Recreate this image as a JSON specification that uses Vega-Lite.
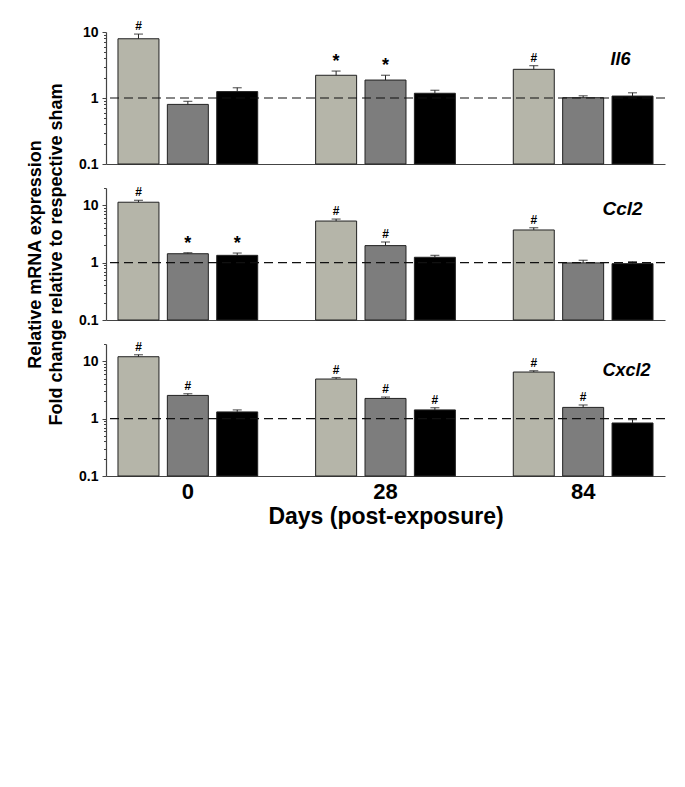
{
  "$schema": "https://vega.github.io/schema/vega-lite/v6.json",
  "background": "white",
  "padding": {"left": 26, "top": 20, "right": 5, "bottom": 5},
  "bounds": "flush",
  "spacing": 24,
  "config": {"view": {"stroke": null}, "font": "Liberation Sans", "axis": {"labelFont": "Liberation Sans", "titleFont": "Liberation Sans"}},
  "data": {"values": [
    {"gene": "Il6", "day": "0", "grp": "T1", "value": 7.9, "upper": 9.3, "sig": "#"},
    {"gene": "Il6", "day": "0", "grp": "T2", "value": 0.80, "upper": 0.89, "sig": ""},
    {"gene": "Il6", "day": "0", "grp": "T3", "value": 1.25, "upper": 1.43, "sig": ""},
    {"gene": "Il6", "day": "28", "grp": "T1", "value": 2.21, "upper": 2.56, "sig": "*"},
    {"gene": "Il6", "day": "28", "grp": "T2", "value": 1.87, "upper": 2.21, "sig": "*"},
    {"gene": "Il6", "day": "28", "grp": "T3", "value": 1.18, "upper": 1.31, "sig": ""},
    {"gene": "Il6", "day": "84", "grp": "T1", "value": 2.72, "upper": 3.09, "sig": "#"},
    {"gene": "Il6", "day": "84", "grp": "T2", "value": 1.01, "upper": 1.08, "sig": ""},
    {"gene": "Il6", "day": "84", "grp": "T3", "value": 1.07, "upper": 1.20, "sig": ""},
    {"gene": "Ccl2", "day": "0", "grp": "T1", "value": 11.3, "upper": 12.2, "sig": "#"},
    {"gene": "Ccl2", "day": "0", "grp": "T2", "value": 1.43, "upper": 1.49, "sig": "*"},
    {"gene": "Ccl2", "day": "0", "grp": "T3", "value": 1.34, "upper": 1.47, "sig": "*"},
    {"gene": "Ccl2", "day": "28", "grp": "T1", "value": 5.31, "upper": 5.75, "sig": "#"},
    {"gene": "Ccl2", "day": "28", "grp": "T2", "value": 1.98, "upper": 2.29, "sig": "#"},
    {"gene": "Ccl2", "day": "28", "grp": "T3", "value": 1.24, "upper": 1.34, "sig": ""},
    {"gene": "Ccl2", "day": "84", "grp": "T1", "value": 3.71, "upper": 4.06, "sig": "#"},
    {"gene": "Ccl2", "day": "84", "grp": "T2", "value": 0.99, "upper": 1.10, "sig": ""},
    {"gene": "Ccl2", "day": "84", "grp": "T3", "value": 0.96, "upper": 1.04, "sig": ""},
    {"gene": "Cxcl2", "day": "0", "grp": "T1", "value": 12.0, "upper": 13.0, "sig": "#"},
    {"gene": "Cxcl2", "day": "0", "grp": "T2", "value": 2.54, "upper": 2.72, "sig": "#"},
    {"gene": "Cxcl2", "day": "0", "grp": "T3", "value": 1.31, "upper": 1.42, "sig": ""},
    {"gene": "Cxcl2", "day": "28", "grp": "T1", "value": 4.9, "upper": 5.2, "sig": "#"},
    {"gene": "Cxcl2", "day": "28", "grp": "T2", "value": 2.25, "upper": 2.38, "sig": "#"},
    {"gene": "Cxcl2", "day": "28", "grp": "T3", "value": 1.42, "upper": 1.55, "sig": "#"},
    {"gene": "Cxcl2", "day": "84", "grp": "T1", "value": 6.49, "upper": 6.84, "sig": "#"},
    {"gene": "Cxcl2", "day": "84", "grp": "T2", "value": 1.57, "upper": 1.73, "sig": "#"},
    {"gene": "Cxcl2", "day": "84", "grp": "T3", "value": 0.84, "upper": 0.96, "sig": ""}
  ]},
  "vconcat": [
    {
      "width": 559, "height": 132,
      "transform": [{"filter": "datum.gene == 'Il6'"}],
      "layer": [
        {"mark": {"type": "bar", "stroke": "#222", "strokeWidth": 1},
         "encoding": {
           "x": {"field": "day", "type": "nominal", "sort": ["0", "28", "84"], "scale": {"paddingInner": 0.293, "paddingOuter": 0.0606}, "axis": {"labels": false, "ticks": false, "title": null, "domainColor": "#444", "domainWidth": 1.2}},
           "xOffset": {"field": "grp", "type": "nominal", "sort": ["T1", "T2", "T3"], "scale": {"paddingInner": 0.17, "paddingOuter": 0}},
           "y": {"field": "value", "type": "quantitative", "scale": {"type": "log", "domain": [0.1, 10], "nice": false},
                 "axis": {"values": [0.1, 0.2, 0.3, 0.4, 0.5, 0.6, 0.7, 0.8, 0.9, 1, 2, 3, 4, 5, 6, 7, 8, 9, 10],
                          "labelExpr": "datum.value == 0.1 ? '0.1' : datum.value == 1 ? '1' : datum.value == 10 ? '10' : ''",
                          "tickSize": {"condition": {"test": "datum.value == 0.1 || datum.value == 1 || datum.value == 10", "value": 4}, "value": 2.5},
                          "labelFontSize": 14, "labelFontWeight": "bold", "labelColor": "#000", "labelPadding": 4, "labelOverlap": false,
                          "domainColor": "#444", "domainWidth": 1.2, "tickColor": "#444", "grid": false, "title": null}},
           "y2": {"datum": 0.1},
           "fill": {"field": "grp", "type": "nominal", "scale": {"domain": ["T1", "T2", "T3"], "range": ["#b5b5a9", "#7d7d7d", "#000000"]}, "legend": null}
         }},
        {"mark": {"type": "rule", "color": "#222", "strokeWidth": 1},
         "encoding": {
           "x": {"field": "day", "type": "nominal", "sort": ["0", "28", "84"]},
           "xOffset": {"field": "grp", "type": "nominal", "sort": ["T1", "T2", "T3"]},
           "y": {"field": "value", "type": "quantitative"}, "y2": {"field": "upper"}}},
        {"mark": {"type": "tick", "color": "#222", "size": 9, "thickness": 1.2, "orient": "horizontal"},
         "encoding": {
           "x": {"field": "day", "type": "nominal", "sort": ["0", "28", "84"]},
           "xOffset": {"field": "grp", "type": "nominal", "sort": ["T1", "T2", "T3"]},
           "y": {"field": "upper", "type": "quantitative"}}},
        {"transform": [{"filter": "datum.day == '0' && datum.grp == 'T1'"}],
         "mark": {"type": "rule", "strokeDash": [9, 5], "color": "#111", "strokeWidth": 1.2},
         "encoding": {"y": {"datum": 1}}},
        {"mark": {"type": "text", "fontWeight": "bold", "baseline": "alphabetic", "dy": -4, "color": "#000"},
         "encoding": {
           "x": {"field": "day", "type": "nominal", "sort": ["0", "28", "84"]},
           "xOffset": {"field": "grp", "type": "nominal", "sort": ["T1", "T2", "T3"]},
           "y": {"field": "upper", "type": "quantitative"}, "text": {"field": "sig"},
           "size": {"condition": {"test": "datum.sig == '*'", "value": 18}, "value": 12}}},
        {"transform": [{"filter": "datum.day == '84' && datum.grp == 'T3'"}],
         "mark": {"type": "text", "fontWeight": "bold", "fontStyle": "italic", "fontSize": 18, "dx": -12, "baseline": "alphabetic", "color": "#000"},
         "encoding": {
           "x": {"field": "day", "type": "nominal", "sort": ["0", "28", "84"]},
           "xOffset": {"field": "grp", "type": "nominal", "sort": ["T1", "T2", "T3"]},
           "y": {"datum": 3.2}, "text": {"field": "gene"}}}
      ]
    },
    {
      "width": 559, "height": 132,
      "transform": [{"filter": "datum.gene == 'Ccl2'"}],
      "layer": [
        {"mark": {"type": "bar", "stroke": "#222", "strokeWidth": 1},
         "encoding": {
           "x": {"field": "day", "type": "nominal", "sort": ["0", "28", "84"], "scale": {"paddingInner": 0.293, "paddingOuter": 0.0606}, "axis": {"labels": false, "ticks": false, "title": null, "domainColor": "#444", "domainWidth": 1.2}},
           "xOffset": {"field": "grp", "type": "nominal", "sort": ["T1", "T2", "T3"], "scale": {"paddingInner": 0.17, "paddingOuter": 0}},
           "y": {"field": "value", "type": "quantitative", "scale": {"type": "log", "domain": [0.1, 20], "nice": false},
                 "axis": {"values": [0.1, 0.2, 0.3, 0.4, 0.5, 0.6, 0.7, 0.8, 0.9, 1, 2, 3, 4, 5, 6, 7, 8, 9, 10, 20],
                          "labelExpr": "datum.value == 0.1 ? '0.1' : datum.value == 1 ? '1' : datum.value == 10 ? '10' : ''",
                          "tickSize": {"condition": {"test": "datum.value == 0.1 || datum.value == 1 || datum.value == 10", "value": 4}, "value": 2.5},
                          "labelFontSize": 14, "labelFontWeight": "bold", "labelColor": "#000", "labelPadding": 4, "labelOverlap": false,
                          "domainColor": "#444", "domainWidth": 1.2, "tickColor": "#444", "grid": false,
                          "title": ["Relative mRNA expression", "Fold change relative to respective sham"],
                          "titleFontSize": 18, "titleFontWeight": "bold", "titleColor": "#000", "titleLineHeight": 21, "titlePadding": 13}},
           "y2": {"datum": 0.1},
           "fill": {"field": "grp", "type": "nominal", "scale": {"domain": ["T1", "T2", "T3"], "range": ["#b5b5a9", "#7d7d7d", "#000000"]}, "legend": null}
         }},
        {"mark": {"type": "rule", "color": "#222", "strokeWidth": 1},
         "encoding": {
           "x": {"field": "day", "type": "nominal", "sort": ["0", "28", "84"]},
           "xOffset": {"field": "grp", "type": "nominal", "sort": ["T1", "T2", "T3"]},
           "y": {"field": "value", "type": "quantitative"}, "y2": {"field": "upper"}}},
        {"mark": {"type": "tick", "color": "#222", "size": 9, "thickness": 1.2, "orient": "horizontal"},
         "encoding": {
           "x": {"field": "day", "type": "nominal", "sort": ["0", "28", "84"]},
           "xOffset": {"field": "grp", "type": "nominal", "sort": ["T1", "T2", "T3"]},
           "y": {"field": "upper", "type": "quantitative"}}},
        {"transform": [{"filter": "datum.day == '0' && datum.grp == 'T1'"}],
         "mark": {"type": "rule", "strokeDash": [9, 5], "color": "#111", "strokeWidth": 1.2},
         "encoding": {"y": {"datum": 1}}},
        {"mark": {"type": "text", "fontWeight": "bold", "baseline": "alphabetic", "dy": -4, "color": "#000"},
         "encoding": {
           "x": {"field": "day", "type": "nominal", "sort": ["0", "28", "84"]},
           "xOffset": {"field": "grp", "type": "nominal", "sort": ["T1", "T2", "T3"]},
           "y": {"field": "upper", "type": "quantitative"}, "text": {"field": "sig"},
           "size": {"condition": {"test": "datum.sig == '*'", "value": 18}, "value": 12}}},
        {"transform": [{"filter": "datum.day == '84' && datum.grp == 'T3'"}],
         "mark": {"type": "text", "fontWeight": "bold", "fontStyle": "italic", "fontSize": 19, "dx": -10, "baseline": "alphabetic", "color": "#000"},
         "encoding": {
           "x": {"field": "day", "type": "nominal", "sort": ["0", "28", "84"]},
           "xOffset": {"field": "grp", "type": "nominal", "sort": ["T1", "T2", "T3"]},
           "y": {"datum": 6.8}, "text": {"field": "gene"}}}
      ]
    },
    {
      "width": 559, "height": 132,
      "transform": [{"filter": "datum.gene == 'Cxcl2'"}],
      "layer": [
        {"mark": {"type": "bar", "stroke": "#222", "strokeWidth": 1},
         "encoding": {
           "x": {"field": "day", "type": "nominal", "sort": ["0", "28", "84"], "scale": {"paddingInner": 0.293, "paddingOuter": 0.0606},
                 "axis": {"labels": true, "ticks": false, "labelAngle": 0, "labelFontSize": 22, "labelFontWeight": "bold", "labelColor": "#000", "labelPadding": 5,
                          "title": "Days (post-exposure)", "titleFontSize": 23, "titleFontWeight": "bold", "titleColor": "#000", "titlePadding": 3,
                          "domainColor": "#444", "domainWidth": 1.2}},
           "xOffset": {"field": "grp", "type": "nominal", "sort": ["T1", "T2", "T3"], "scale": {"paddingInner": 0.17, "paddingOuter": 0}},
           "y": {"field": "value", "type": "quantitative", "scale": {"type": "log", "domain": [0.1, 20], "nice": false},
                 "axis": {"values": [0.1, 0.2, 0.3, 0.4, 0.5, 0.6, 0.7, 0.8, 0.9, 1, 2, 3, 4, 5, 6, 7, 8, 9, 10, 20],
                          "labelExpr": "datum.value == 0.1 ? '0.1' : datum.value == 1 ? '1' : datum.value == 10 ? '10' : ''",
                          "tickSize": {"condition": {"test": "datum.value == 0.1 || datum.value == 1 || datum.value == 10", "value": 4}, "value": 2.5},
                          "labelFontSize": 14, "labelFontWeight": "bold", "labelColor": "#000", "labelPadding": 4, "labelOverlap": false,
                          "domainColor": "#444", "domainWidth": 1.2, "tickColor": "#444", "grid": false, "title": null}},
           "y2": {"datum": 0.1},
           "fill": {"field": "grp", "type": "nominal", "scale": {"domain": ["T1", "T2", "T3"], "range": ["#b5b5a9", "#7d7d7d", "#000000"]}, "legend": null}
         }},
        {"mark": {"type": "rule", "color": "#222", "strokeWidth": 1},
         "encoding": {
           "x": {"field": "day", "type": "nominal", "sort": ["0", "28", "84"]},
           "xOffset": {"field": "grp", "type": "nominal", "sort": ["T1", "T2", "T3"]},
           "y": {"field": "value", "type": "quantitative"}, "y2": {"field": "upper"}}},
        {"mark": {"type": "tick", "color": "#222", "size": 9, "thickness": 1.2, "orient": "horizontal"},
         "encoding": {
           "x": {"field": "day", "type": "nominal", "sort": ["0", "28", "84"]},
           "xOffset": {"field": "grp", "type": "nominal", "sort": ["T1", "T2", "T3"]},
           "y": {"field": "upper", "type": "quantitative"}}},
        {"transform": [{"filter": "datum.day == '0' && datum.grp == 'T1'"}],
         "mark": {"type": "rule", "strokeDash": [9, 5], "color": "#111", "strokeWidth": 1.2},
         "encoding": {"y": {"datum": 1}}},
        {"mark": {"type": "text", "fontWeight": "bold", "baseline": "alphabetic", "dy": -4, "color": "#000"},
         "encoding": {
           "x": {"field": "day", "type": "nominal", "sort": ["0", "28", "84"]},
           "xOffset": {"field": "grp", "type": "nominal", "sort": ["T1", "T2", "T3"]},
           "y": {"field": "upper", "type": "quantitative"}, "text": {"field": "sig"},
           "size": {"condition": {"test": "datum.sig == '*'", "value": 18}, "value": 12}}},
        {"transform": [{"filter": "datum.day == '84' && datum.grp == 'T3'"}],
         "mark": {"type": "text", "fontWeight": "bold", "fontStyle": "italic", "fontSize": 18, "dx": -6, "baseline": "alphabetic", "color": "#000"},
         "encoding": {
           "x": {"field": "day", "type": "nominal", "sort": ["0", "28", "84"]},
           "xOffset": {"field": "grp", "type": "nominal", "sort": ["T1", "T2", "T3"]},
           "y": {"datum": 5.6}, "text": {"field": "gene"}}}
      ]
    }
  ]
}
